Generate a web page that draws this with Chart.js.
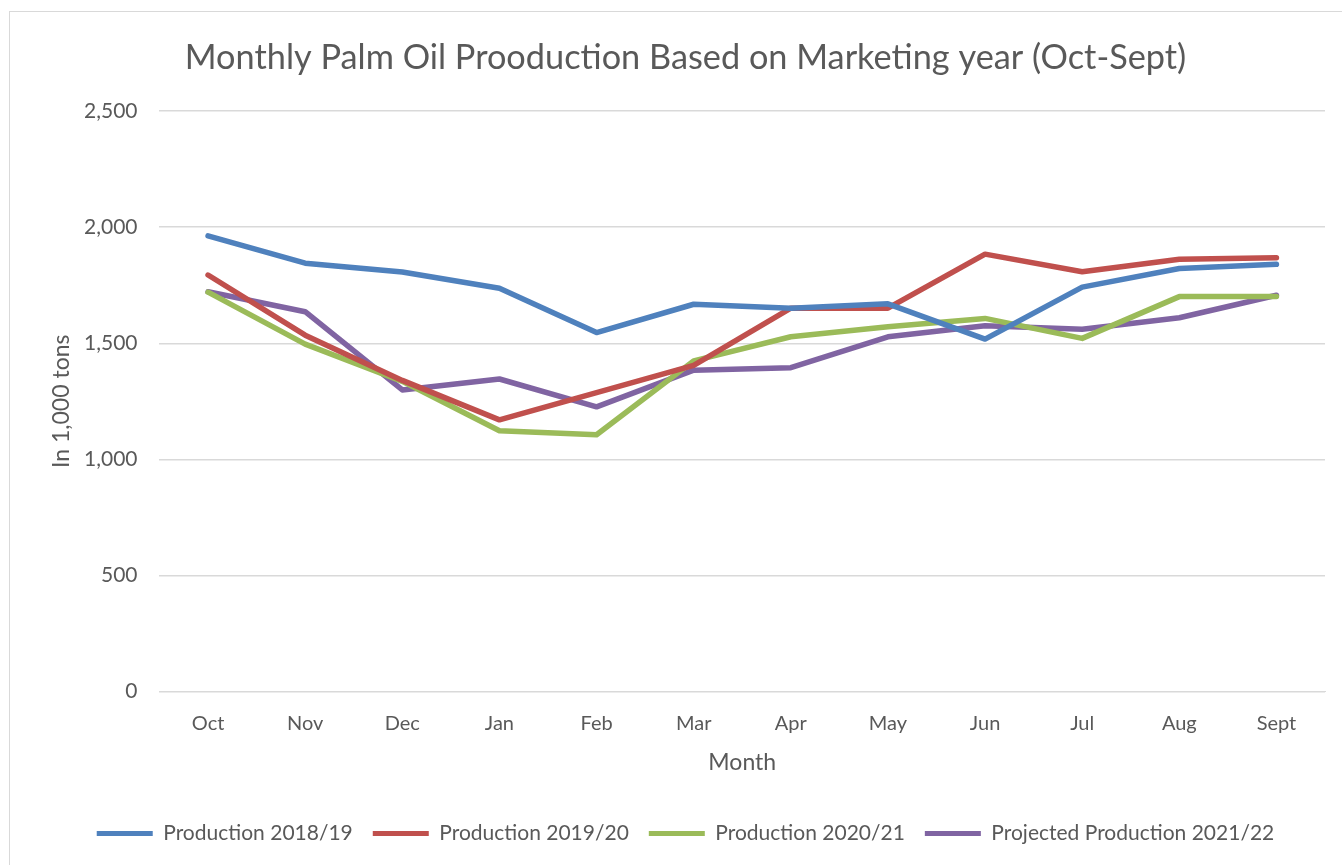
<!DOCTYPE html>
<html>
<head>
<meta charset="utf-8">
<script src="https://cdn.jsdelivr.net/npm/chart.js@4"></script>
<style>
  html, body { margin: 0; padding: 0; background: #fff; }
  #frame { position: absolute; left: 9px; top: 11px; width: 1340px; height: 860px; border: 1px solid #d9d9d9; box-sizing: border-box; }
  #wrap { position: absolute; left: 0; top: 0; width: 1342px; height: 865px; }
</style>
</head>
<body>
<div id="frame"></div>
<div id="wrap"><canvas id="palmChart"></canvas></div>
<script>
// Monthly palm oil production, in 1,000 tons
const months = ['Oct', 'Nov', 'Dec', 'Jan', 'Feb', 'Mar', 'Apr', 'May', 'Jun', 'Jul', 'Aug', 'Sept'];
const prod1819 = [1963, 1845, 1807, 1737, 1546, 1668, 1651, 1670, 1518, 1742, 1822, 1840];
const prod1920 = [1794, 1535, 1340, 1170, 1287, 1405, 1651, 1651, 1884, 1808, 1862, 1868];
const prod2021 = [1720, 1496, 1336, 1123, 1106, 1424, 1528, 1571, 1607, 1521, 1701, 1701];
const proj2122 = [1722, 1636, 1299, 1346, 1226, 1384, 1395, 1528, 1575, 1560, 1610, 1707];
const yTicks = [0, 500, 1000, 1500, 2000, 2500];

const textColor = '#595959';
const fontFam = 'Lato, "Open Sans", sans-serif';

function series(label, data, color) {
    return { label, data, borderColor: color, backgroundColor: color, borderWidth: 5.5, pointRadius: 0, tension: 0, borderCapStyle: 'round', borderJoinStyle: 'round' };
}

new Chart(document.getElementById('palmChart'), {
    type: 'line',
    data: {
        labels: months,
        datasets: [
            series('Production 2018/19', prod1819, '#4f81bd'),
            series('Production 2019/20', prod1920, '#c0504d'),
            series('Production 2020/21', prod2021, '#9bbb59'),
            series('Projected Production 2021/22', proj2122, '#8064a2')
        ]
    },
    options: {
        responsive: true, maintainAspectRatio: false, animation: false,
        layout: { padding: { top: 37, left: 46, right: 17, bottom: 11 } },
        plugins: {
            title: {
                display: true,
                text: 'Monthly Palm Oil Prooduction Based on Marketing year (Oct-Sept)',
                color: textColor,
                font: { family: fontFam, size: 34.3, weight: 'normal' },
                padding: { top: 0, bottom: 33 }
            },
            legend: {
                position: 'bottom',
                labels: {
                    color: textColor,
                    font: { family: fontFam, size: 21 },
                    boxWidth: 56, boxHeight: 5, padding: 20,
                    generateLabels(chart) {
                        return chart.data.datasets.map((d, i) => ({
                            text: d.label, fillStyle: d.borderColor, strokeStyle: d.borderColor,
                            lineWidth: 0, hidden: false, datasetIndex: i, fontColor: textColor
                        }));
                    }
                }
            },
            tooltip: { enabled: false }
        },
        scales: {
            x: {
                offset: true,
                grid: { display: false },
                border: { color: '#d9d9d9' },
                ticks: { color: textColor, font: { family: fontFam, size: 20 }, padding: 12 },
                title: { display: true, text: 'Month', color: textColor, font: { family: fontFam, size: 23 }, padding: { top: 1, bottom: 27 } }
            },
            y: {
                min: 0, max: 2500,
                afterBuildTicks(axis) { axis.ticks = yTicks.map(v => ({ value: v })); },
                grid: { color: '#d9d9d9', lineWidth: 1.5, drawTicks: false },
                border: { display: false },
                ticks: {
                    color: textColor, font: { family: fontFam, size: 21 }, padding: 22,
                    callback: v => v.toLocaleString('en-US')
                },
                title: { display: true, text: 'In 1,000 tons', color: textColor, font: { family: fontFam, size: 23, lineHeight: 1 }, padding: { top: 4, bottom: -11 } }
            }
        }
    }
});
</script>
</body>
</html>
